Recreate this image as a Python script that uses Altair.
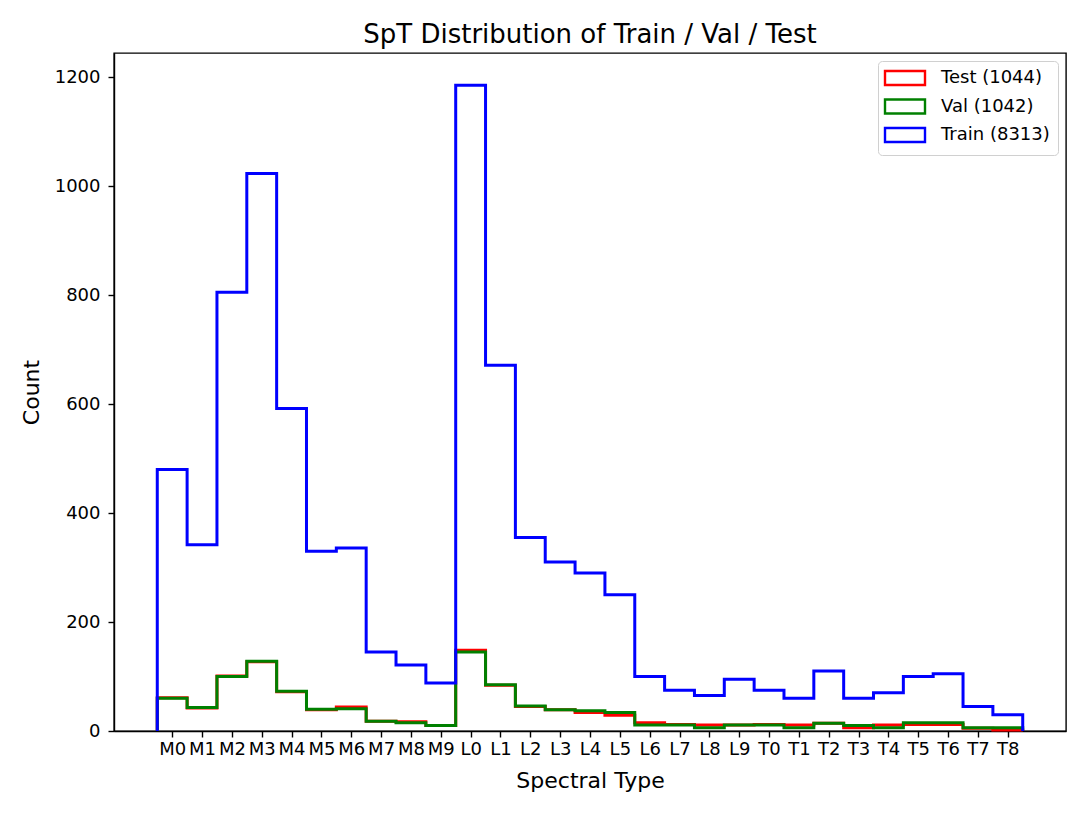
import altair as alt
import pandas as pd

categories = ["M0", "M1", "M2", "M3", "M4", "M5", "M6", "M7", "M8", "M9",
              "L0", "L1", "L2", "L3", "L4", "L5", "L6", "L7", "L8", "L9",
              "T0", "T1", "T2", "T3", "T4", "T5", "T6", "T7", "T8"]
train = [480, 342, 805, 1023, 592, 330, 336, 145, 121, 88,
         1185, 671, 355, 310, 290, 250, 100, 75, 65, 95,
         75, 60, 110, 60, 70, 100, 105, 45, 30]
val = [60, 43, 100, 128, 73, 40, 41, 18, 15, 10,
       145, 85, 46, 39, 37, 34, 11, 11, 6, 11,
       11, 6, 14, 10, 6, 15, 15, 6, 6]
test = [61, 42, 101, 127, 72, 39, 44, 18, 17, 10,
        148, 84, 45, 39, 34, 29, 15, 12, 11, 11,
        12, 11, 14, 6, 11, 12, 12, 5, 2]

series_names = ["Test (1044)", "Val (1042)", "Train (8313)"]
series_colors = ["#ff0000", "#008000", "#0000ff"]
series_counts = [test, val, train]


def outline(name, counts):
    rows = [{"series": name, "x": -0.5, "y": 0, "k": 0}]
    for i, c in enumerate(counts):
        rows.append({"series": name, "x": i - 0.5, "y": c, "k": len(rows)})
        rows.append({"series": name, "x": i + 0.5, "y": c, "k": len(rows)})
    rows.append({"series": name, "x": len(counts) - 0.5, "y": 0, "k": len(rows)})
    return pd.DataFrame(rows)


label_expr = "[" + ",".join(f"'{c}'" for c in categories) + "][datum.value]"

x_enc = alt.X(
    "x:Q",
    scale=alt.Scale(domain=[-1.95, 29.95], nice=False, zero=False),
    axis=alt.Axis(values=list(range(len(categories))), labelExpr=label_expr,
                  title="Spectral Type", grid=False, labelOverlap=False,
                  labelFlush=False, labelPadding=3, titlePadding=12),
)
y_enc = alt.Y(
    "y:Q",
    scale=alt.Scale(domain=[0, 1244.25], nice=False),
    axis=alt.Axis(values=[0, 200, 400, 600, 800, 1000, 1200], title="Count",
                  format="d", grid=False, labelPadding=8, titlePadding=11),
)
color_enc = alt.Color(
    "series:N",
    scale=alt.Scale(domain=series_names, range=series_colors),
    legend=alt.Legend(
        title=None, orient="top-right", offset=8,
        symbolType="M-2.857,-1L2.857,-1L2.857,1L-2.857,1Z", symbolSize=196,
        symbolStrokeWidth=2.4, symbolFillColor="white", symbolOffset=10,
        labelFontSize=18, labelOffset=27, rowPadding=4.5, padding=8,
        strokeColor="#d0d0d0", fillColor="white", cornerRadius=4,
        labelColor="black",
    ),
)

layers = []
for name, counts in zip(series_names, series_counts):
    layers.append(
        alt.Chart(outline(name, counts))
        .mark_line(strokeWidth=3, strokeJoin="miter", strokeCap="butt")
        .encode(x=x_enc, y=y_enc, order="k:Q", color=color_enc)
    )

chart = (
    alt.layer(*layers)
    .properties(
        width=952, height=678,
        title=alt.Title("SpT Distribution of Train / Val / Test", fontSize=26,
                        fontWeight="normal", offset=5,
                        color="black", anchor="middle"),
        autosize=alt.AutoSizeParams(type="none"),
        padding={"left": 106, "top": 45, "right": 14, "bottom": 70},
    )
    .configure(font="DejaVu Sans")
    .configure_view(stroke="black", strokeWidth=1.4)
    .configure_axis(domainColor="black", domainWidth=1.4, tickColor="black",
                    tickWidth=1.4, tickSize=6, labelFontSize=18, titleFontSize=22,
                    labelColor="black", titleColor="black", titleFontWeight="normal")
)

chart.save("out.html", embed_options={"renderer": "svg", "actions": False})
